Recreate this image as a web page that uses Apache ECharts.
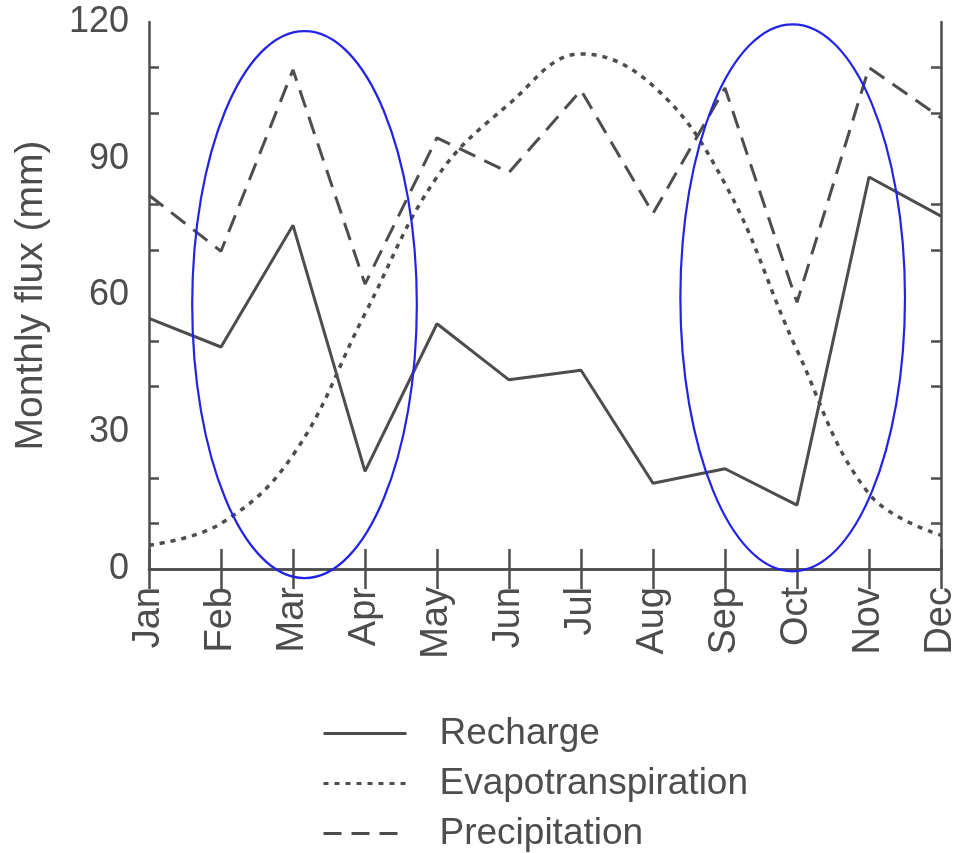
<!DOCTYPE html>
<html>
<head>
<meta charset="utf-8">
<script src="https://cdn.jsdelivr.net/npm/echarts@6/dist/echarts.min.js"></script>
<style>
html, body { margin: 0; padding: 0; background: #fff; }
#flux_chart { width: 960px; height: 853px; }
</style>
</head>
<body>
<div id="flux_chart"></div>
<script>
var months = ["Jan", "Feb", "Mar", "Apr", "May", "Jun", "Jul", "Aug", "Sep", "Oct", "Nov", "Dec"];
var recharge = [55, 48.7, 75.4, 21.4, 53.8, 41.5, 43.6, 18.8, 22, 14, 86, 77.4];
var evapotranspiration = [5.2, 10, 25, 56, 86, 102, 113, 106, 84.5, 48, 16.5, 7.4];
var precipitation = [82, 69.7, 109.5, 62.5, 94.6, 87, 105, 78, 105.5, 58.5, 110, 99];

// circled periods: centre (month index, mm) and half sizes
var ringMonth = [2.16, 8.94];
var ringValue = [58, 59.5];
var ringHalfMonths = [1.56, 1.56];
var ringHalfValue = [60, 60];

var ink = "#4d4d4d";
var font = "'Liberation Sans', Arial, Helvetica, sans-serif";

function renderRing(params, api) {
  var i = params.dataIndex;
  var p0 = api.coord([0, ringValue[i]]);
  var p1 = api.coord([1, ringValue[i]]);
  var step = p1[0] - p0[0];
  var top = api.coord([0, ringValue[i] + ringHalfValue[i]])[1];
  return {
    type: "ellipse",
    shape: {
      cx: p0[0] + step * ringMonth[i],
      cy: p0[1],
      rx: step * ringHalfMonths[i],
      ry: p0[1] - top
    },
    style: { fill: null, stroke: "#2323e6", lineWidth: 2.2 }
  };
}

var sideY = {
  min: 0,
  max: 120,
  interval: 30,
  axisLine: { show: true, lineStyle: { color: ink, width: 2.5 } },
  axisTick: { inside: true, length: 20, lineStyle: { color: ink, width: 2.5 } },
  minorTick: { show: true, splitNumber: 3, length: 10, lineStyle: { color: ink, width: 2.5 } },
  splitLine: { show: false },
  minorSplitLine: { show: false }
};

var options = {
  backgroundColor: "#fff",
  animation: false,
  textStyle: { fontFamily: font },
  grid: { left: 149, right: 15, top: 22, bottom: 284 },
  legend: {
    data: ["Recharge", "Evapotranspiration", "Precipitation"],
    orient: "vertical",
    left: 317,
    top: 710,
    height: 200,
    itemWidth: 83,
    itemHeight: 14,
    itemGap: 13,
    itemStyle: { opacity: 0 },
    lineStyle: { width: 3 },
    textStyle: { fontSize: 37, color: ink, fontFamily: font, padding: [0, 0, 0, 28] }
  },
  xAxis: [
    {
      type: "category",
      data: months,
      boundaryGap: false,
      axisLine: { lineStyle: { color: ink, width: 2.5 } },
      axisTick: { inside: true, length: 20, lineStyle: { color: ink, width: 2.5 } },
      axisLabel: { rotate: 90, fontSize: 38, color: ink, margin: 18, fontFamily: font }
    },
    {
      type: "category",
      data: months,
      position: "top",
      boundaryGap: false,
      axisLine: { lineStyle: { color: ink, width: 2.5 } },
      axisTick: { inside: true, length: 20, lineStyle: { color: ink, width: 2.5 } },
      axisLabel: { show: false }
    }
  ],
  yAxis: [
    Object.assign({}, sideY, {
      type: "value",
      position: "left",
      name: "Monthly flux (mm)",
      nameLocation: "middle",
      nameGap: 98,
      nameTextStyle: { fontSize: 39, color: ink, fontFamily: font },
      axisLabel: { fontSize: 36, color: ink, margin: 20, fontFamily: font }
    }),
    Object.assign({}, sideY, {
      type: "value",
      position: "right",
      axisLabel: { show: false }
    })
  ],
  series: [
    {
      name: "Recharge",
      type: "line",
      data: recharge,
      symbol: "none",
      lineStyle: { color: ink, width: 3 },
      itemStyle: { color: ink }
    },
    {
      name: "Evapotranspiration",
      type: "line",
      data: evapotranspiration,
      smooth: 0.4,
      symbol: "none",
      lineStyle: { color: ink, width: 3.5, type: [5, 6] },
      itemStyle: { color: ink }
    },
    {
      name: "Precipitation",
      type: "line",
      data: precipitation,
      symbol: "none",
      lineStyle: { color: ink, width: 3, type: [18, 10] },
      itemStyle: { color: ink }
    },
    {
      type: "custom",
      renderItem: renderRing,
      clip: false,
      silent: true,
      data: ringMonth.map(function (m, i) { return [i, 0]; }),
      z: 10
    }
  ]
};

var fluxChart = echarts.init(document.getElementById("flux_chart"));
fluxChart.setOption(options);
</script>
</body>
</html>
